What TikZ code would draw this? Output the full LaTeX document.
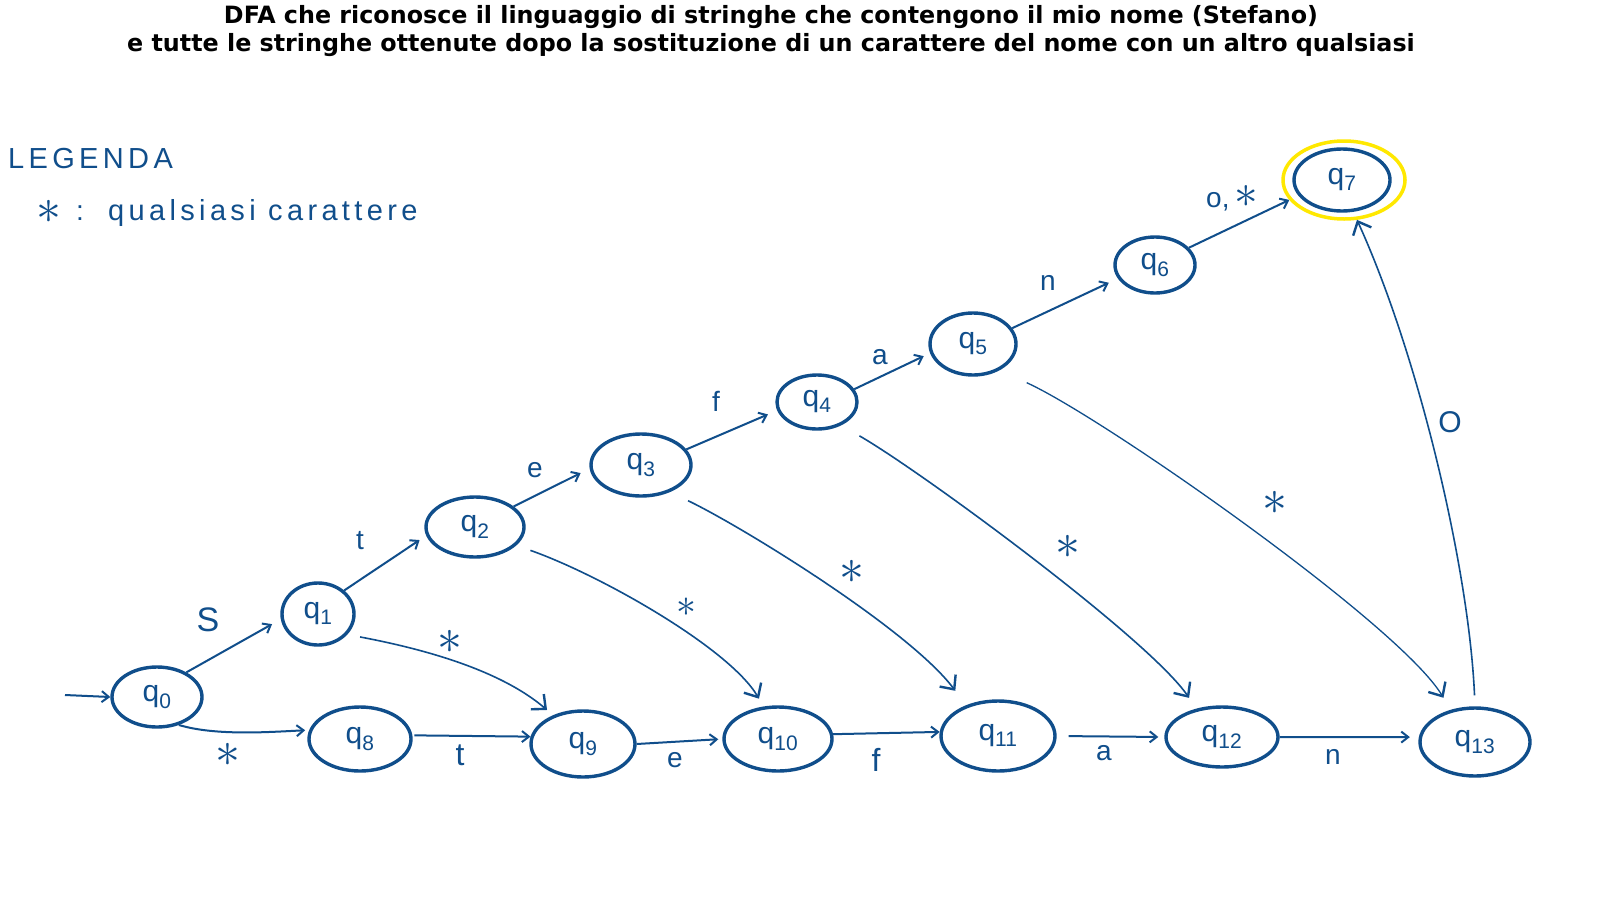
\documentclass[tikz,border=0pt]{standalone}
\usepackage{fontspec}
\setmainfont{Liberation Sans}
\newfontfamily\titlefont{DejaVu Sans}
\usetikzlibrary{shapes.geometric,arrows.meta}
\definecolor{ink}{RGB}{16,78,139}
\definecolor{hl}{RGB}{255,232,0}
\newcommand\bigstar[1][2]{\scalebox{#1}{$\ast$}}
\begin{document}
\begin{tikzpicture}[x=1pt,y=-1pt,
  st/.style={ellipse,draw=ink,line width=3.4pt,inner sep=0pt,text=ink,
    font=\fontsize{30}{30}\selectfont},
  tr/.style={draw=ink,line width=2pt,-{Straight Barb[length=7pt,width=11pt,line width=2pt]}},
  cv/.style={draw=ink,line width=1.6pt,-{Straight Barb[length=11pt,width=20pt,line width=2.4pt]}},
  lb/.style={text=ink,font=\fontsize{28}{28}\selectfont,inner sep=0pt},
  sk/.style={text=ink,font=\fontsize{24}{24}\selectfont,inner sep=0pt},
  lg/.style={text=ink,font=\fontsize{29}{29}\selectfont\addfontfeatures{LetterSpace=15},inner sep=0pt,anchor=west}]
\fill[white] (0,0) rectangle (1611,905);
\useasboundingbox (0,0) rectangle (1611,905);

% title
\node[font=\titlefont\bfseries\fontsize{23.8}{28}\selectfont,align=center,inner sep=0pt] (title) at (771,31)
  {DFA che riconosce il linguaggio di stringhe che contengono il mio nome (Stefano)\\
   e tutte le stringhe ottenute dopo la sostituzione di un carattere del nome con un altro qualsiasi};

% legend
\node[lg] (leg) at (8,159) {LEGENDA};
\node[sk] (legstar) at (49,212) {\bigstar[2.0]};
\node[lb] (legcolon) at (80,213) {:};
\node[lg] (legtxt) at (108,213) {qualsiasi carattere};

% states
\node[st,minimum width=90pt,minimum height=60pt] (q0) at (157,697) {q\textsubscript{0}};
\node[st,minimum width=72pt,minimum height=62pt] (q1) at (318,614) {q\textsubscript{1}};
\node[st,minimum width=98pt,minimum height=60pt] (q2) at (475,527) {q\textsubscript{2}};
\node[st,minimum width=100pt,minimum height=62pt] (q3) at (641,465) {q\textsubscript{3}};
\node[st,minimum width=80pt,minimum height=54pt] (q4) at (817,402) {q\textsubscript{4}};
\node[st,minimum width=86pt,minimum height=62pt] (q5) at (973,344) {q\textsubscript{5}};
\node[st,minimum width=80pt,minimum height=56pt] (q6) at (1155,265) {q\textsubscript{6}};
\node[st,minimum width=96pt,minimum height=62pt] (q7) at (1342,180) {q\textsubscript{7}};
\node[ellipse,draw=hl,line width=3.5pt,minimum width=122pt,minimum height=78pt] (q7r) at (1344,180) {};
\node[st,minimum width=102pt,minimum height=64pt] (q8) at (360,739) {q\textsubscript{8}};
\node[st,minimum width=104pt,minimum height=66pt] (q9) at (583,744) {q\textsubscript{9}};
\node[st,minimum width=108pt,minimum height=64pt] (q10) at (778,739) {q\textsubscript{10}};
\node[st,minimum width=114pt,minimum height=70pt] (q11) at (998,736) {q\textsubscript{11}};
\node[st,minimum width=112pt,minimum height=60pt] (q12) at (1222,737) {q\textsubscript{12}};
\node[st,minimum width=110pt,minimum height=68pt] (q13) at (1475,742) {q\textsubscript{13}};

% initial arrow
\coordinate (init) at (65,695);
\draw[tr] (init) -- (q0.west);

% upper chain
\draw[tr,shorten >=10pt] (q0.40) -- (q1.188);
\draw[tr,shorten >=8pt] (q1.42) -- (q2.190);
\draw[tr,shorten >=10pt] (q2.28) -- (q3.184);
\draw[tr,shorten >=10pt] (q3.19) -- (q4.192);
\draw[tr,shorten >=7pt] (q4.19) -- (q5.192);
\draw[tr,shorten >=10pt] (q5.22) -- (q6.200);
\draw[tr] (q6.27) -- (q7r.200);

% lower chain
\draw[tr,shorten >=4pt] (q0.-52) .. controls +(37,11) and +(-40,2) .. (q8.170);
\draw[tr,shorten <=2pt] (q8.4) -- (q9.172);
\draw[tr,shorten >=4pt] (q9.east) -- (q10.west);
\draw[tr] (q10.5) -- (q11.176);
\draw[tr,shorten <=12pt,shorten >=6pt] (q11.east) -- (q12.west);
\draw[tr,shorten >=9pt] (q12.east) -- (q13.175);

% back to final
\draw[cv,shorten <=11pt] (q13.north) .. controls +(-6,-137) and +(62,136) .. (q7r.-72);

% skip arrows
\draw[cv,shorten <=13pt,shorten >=8pt] (q1.-35) .. controls +(74,14) and +(-54,-46) .. (q9.136);
\draw[cv,shorten <=15pt,shorten >=9pt] (q2.-24) .. controls +(85,30) and +(-34,-58) .. (q10.114);
\draw[cv,shorten <=20pt,shorten >=18pt] (q3.-43) .. controls +(71,34) and +(-57,-76) .. (q11.136);
\draw[cv,shorten <=21pt,shorten >=13pt] (q4.-44) .. controls +(80,46) and +(-48,-70) .. (q12.132);
\draw[cv,line width=1.3pt,shorten <=30pt,shorten >=14pt] (q5.-45) .. controls +(102,46) and +(-52,-86) .. (q13.127);

% labels
\node[lb,font=\fontsize{34}{34}\selectfont] (lS) at (208,620) {S};
\node[lb] (lt1) at (360,541) {t};
\node[lb] (le1) at (535,470) {e};
\node[lb] (lf1) at (716,401) {f};
\node[lb] (la1) at (880,357) {a};
\node[lb] (ln1) at (1048,283) {n};
\node[lb] (lo1) at (1232,198) {o,\,{\fontsize{24}{24}\selectfont\bigstar[1.9]}};
\node[sk] (ls0) at (228,755) {\bigstar};
\node[lb,font=\fontsize{32}{32}\selectfont] (lt2) at (460,755) {t};
\node[lb] (le2) at (675,760) {e};
\node[lb,font=\fontsize{32}{32}\selectfont] (lf2) at (876,760) {f};
\node[lb] (la2) at (1104,753) {a};
\node[lb] (ln2) at (1333,757) {n};
\node[lb,font=\fontsize{30}{30}\selectfont] (lO) at (1450,422) {O};
\node[sk] (ls1) at (450,642) {\bigstar};
\node[sk] (ls2) at (686,607) {\bigstar[1.6]};
\node[sk] (ls3) at (852,572) {\bigstar};
\node[sk] (ls4) at (1068,547) {\bigstar};
\node[sk] (ls5) at (1275,503) {\bigstar};
\end{tikzpicture}
\end{document}
